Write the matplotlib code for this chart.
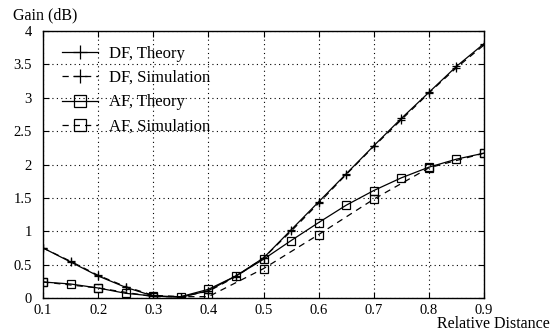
import matplotlib
matplotlib.use("Agg")
import matplotlib.pyplot as plt

x_theory = [0.10, 0.15, 0.20, 0.25, 0.30, 0.35, 0.40, 0.45, 0.50, 0.55, 0.60, 0.65, 0.70, 0.75, 0.80, 0.85, 0.90]
df_theory = [0.75, 0.54, 0.33, 0.16, 0.03, 0.01, 0.11, 0.33, 0.60, 1.02, 1.44, 1.86, 2.28, 2.69, 3.08, 3.47, 3.81]
df_sim = [0.75, 0.55, 0.34, 0.17, 0.04, 0.02, 0.10, 0.32, 0.60, 1.00, 1.42, 1.85, 2.27, 2.67, 3.07, 3.45, 3.79]
af_theory = [0.24, 0.21, 0.15, 0.07, 0.03, 0.02, 0.13, 0.33, 0.58, 0.86, 1.13, 1.39, 1.61, 1.80, 1.96, 2.08, 2.17]
x_af_sim = [0.1, 0.2, 0.3, 0.4, 0.5, 0.6, 0.7, 0.8, 0.9]
af_sim = [0.24, 0.15, 0.02, 0.02, 0.44, 0.95, 1.48, 1.95, 2.17]

labels = ["DF, Theory", "DF, Simulation", "AF, Theory", "AF, Simulation"]
xticks = [0.1, 0.2, 0.3, 0.4, 0.5, 0.6, 0.7, 0.8, 0.9]
yticks = [0, 0.5, 1, 1.5, 2, 2.5, 3, 3.5, 4]
ytick_labels = ["0", "0.5", "1", "1.5", "2", "2.5", "3", "3.5", "4"]

plt.rcParams['font.family'] = ['Liberation Serif', 'DejaVu Serif']

fig = plt.figure(figsize=(5.6, 3.34), dpi=100)
ax = fig.add_axes([43/560, 36/334, 441/560, 267/334])

dash = (0, (5, 4))
ax.plot(x_theory, df_theory, color='black', lw=0.9, marker='+', ms=6, mew=0.9, label=labels[0])
ax.plot(x_theory, df_sim, color='black', lw=0.9, ls=dash, marker='+', ms=6, mew=0.9, label=labels[1])
ax.plot(x_theory, af_theory, color='black', lw=0.9, marker='s', ms=5.5, mfc='none', mew=0.9, label=labels[2])
ax.plot(x_af_sim, af_sim, color='black', lw=0.9, ls=dash, marker='s', ms=5.5, mfc='none', mew=0.9, label=labels[3])

ax.set_xlim(0.1, 0.9)
ax.set_ylim(0, 4)
ax.set_xticks(xticks)
ax.set_xticklabels([f"{t:g}" for t in xticks])
ax.set_yticks(yticks)
ax.set_yticklabels(ytick_labels)
ax.tick_params(direction='in', top=True, right=True, labelsize=10.5, length=4, width=0.8)
ax.tick_params(axis='x', pad=4.5)
ax.tick_params(axis='y', pad=8)
ax.grid(True, color='black', ls=(0, (1, 3)), lw=0.8)
for s in ax.spines.values():
    s.set_linewidth(1.0)

fig.text(13/560, 1 - 15/334, "Gain (dB)", fontsize=11.5, va='center', ha='left')
fig.text(550/560, 1 - 328/334, "Relative Distance", fontsize=11.5, va='baseline', ha='right')

leg = ax.legend(loc='upper left', bbox_to_anchor=(0.043, 0.945), frameon=False, fontsize=12,
                handlelength=2.15, handletextpad=0.7, labelspacing=0.5, borderpad=0, borderaxespad=0,
                numpoints=1, markerscale=1.6)

fig.savefig("out.png", dpi=100)
